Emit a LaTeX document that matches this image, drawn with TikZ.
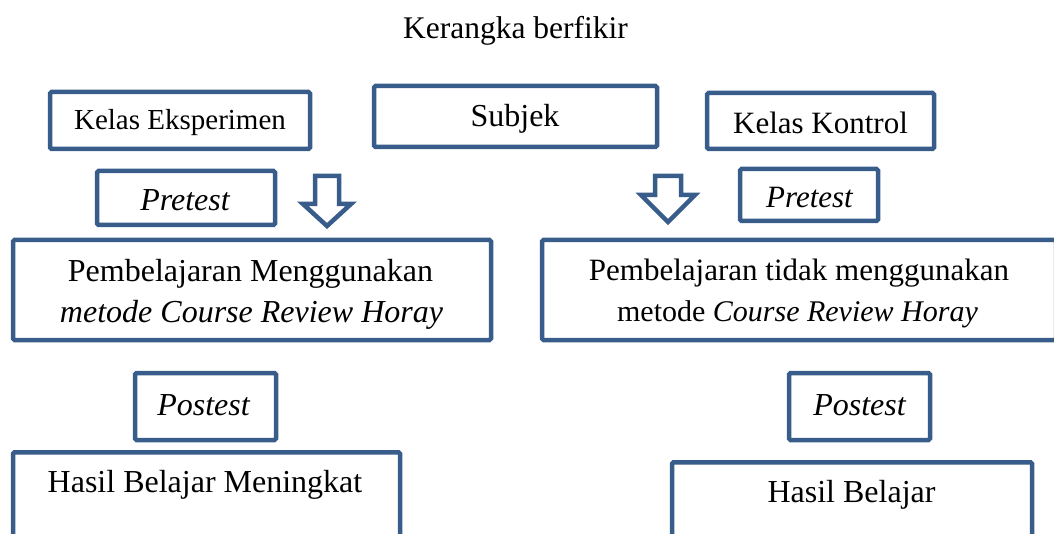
\documentclass[tikz,border=0pt]{standalone}
\usepackage{fontspec}
\setmainfont{Liberation Serif}
\definecolor{boxblue}{RGB}{56,93,138}
\begin{document}
\begin{tikzpicture}[x=1pt,y=-1pt,
  box/.style={draw=boxblue, line width=4.5pt, rounded corners=1.5pt, fill=white, inner sep=0pt},
  lbl/.style={inner sep=0pt, anchor=base, font=\fontsize{32}{41}\selectfont},
  blockarrow/.style={draw=boxblue, line width=4.5pt, fill=white, line join=miter}
]
\useasboundingbox (0,0) rectangle (1054,534);
\clip (0,0) rectangle (1054,534);

% title
\node[lbl, font=\fontsize{31.5}{38}\selectfont] (title) at (515.5,39) {Kerangka berfikir};

% top row
\node[box, minimum width=260, minimum height=57] (ke) at (180,120.5) {};
\node[lbl, font=\fontsize{29}{35}\selectfont] (ket) at (180,130) {Kelas Eksperimen};

\node[box, minimum width=283, minimum height=61] (sub) at (515.5,116.5) {};
\node[lbl] (subt) at (515,127) {Subjek};

\node[box, minimum width=227, minimum height=56] (kk) at (820.5,121) {};
\node[lbl, font=\fontsize{31}{38}\selectfont] (kkt) at (820.5,134) {Kelas Kontrol};

% pretest row
\node[box, minimum width=178, minimum height=54] (prl) at (186,198) {};
\node[lbl] (prlt) at (185,211) {\itshape Pretest};

\node[box, minimum width=138, minimum height=52] (prr) at (809,195) {};
\node[lbl, font=\fontsize{31}{38}\selectfont] (prrt) at (809.5,208) {\itshape Pretest};

% block arrows
\draw[blockarrow] (315,176) -- (339,176) -- (339,204) -- (351,204) -- (327,226) -- (303,204) -- (315,204) -- cycle;
\draw[blockarrow] (655,176) -- (681,176) -- (681,195) -- (695,195) -- (668,222) -- (641,195) -- (655,195) -- cycle;

% learning boxes
\node[box, minimum width=478, minimum height=100] (pl) at (252,290) {};
\node[lbl] (plt1) at (250.5,282) {Pembelajaran Menggunakan};
\node[lbl] (plt2) at (251.5,323) {\itshape metode Course Review Horay};

\node[box, minimum width=514, minimum height=100] (pr) at (799,290) {};
\node[lbl, font=\fontsize{31}{40}\selectfont] (prt1) at (799,281) {Pembelajaran tidak menggunakan};
\node[lbl, font=\fontsize{30}{40}\selectfont] (prt2) at (797.5,322) {metode \itshape Course Review Horay};

% postest row
\node[box, minimum width=141, minimum height=67] (pol) at (205.5,406.5) {};
\node[lbl] (polt) at (203.5,415) {\itshape Postest};

\node[box, minimum width=141, minimum height=67] (por) at (859.5,406.5) {};
\node[lbl] (port) at (859.5,415) {\itshape Postest};

% result boxes
\node[box, anchor=north, minimum width=387, minimum height=120] (hl) at (206.5,450) {};
\node[lbl] (hlt) at (205,492) {Hasil Belajar Meningkat};

\node[box, anchor=north, minimum width=360, minimum height=120] (hr) at (852,460) {};
\node[lbl] (hrt) at (851.5,502) {Hasil Belajar};
\end{tikzpicture}
\end{document}
